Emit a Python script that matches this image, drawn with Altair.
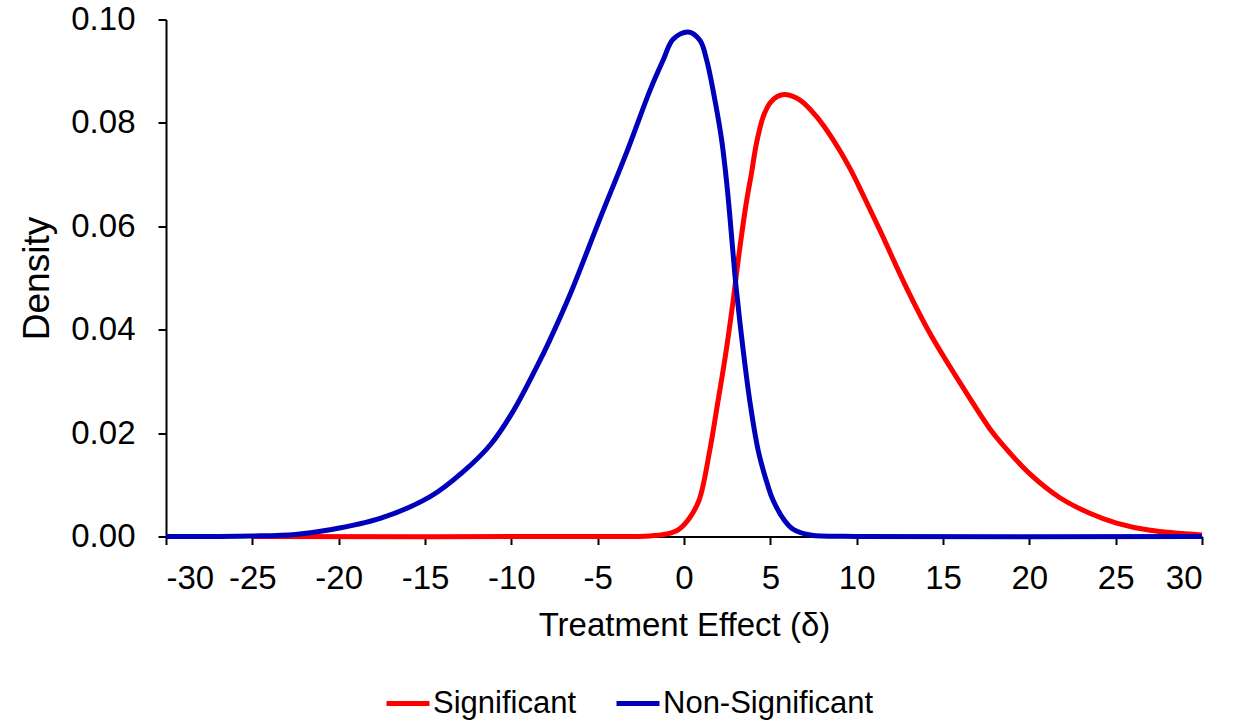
import altair as alt
import pandas as pd

# Significant (red)
sig_x = [-25, -5, -2, -1, -0.34, 0.3, 0.88, 1.5, 1.98, 2.4, 2.85, 3.2, 3.62, 3.91, 4.2, 4.59, 4.97,
         5.4, 5.86, 6.72, 7.68, 8.64, 9.61, 10.38, 11.35, 12.9, 14.24, 15.97, 17.7, 18.29, 20.03,
         21.77, 23.5, 25.05, 27, 30]
sig_y = [0, 0, 0.0001, 0.0005, 0.0013, 0.0035, 0.0071, 0.0168, 0.0264, 0.0350, 0.0457, 0.0550,
         0.0648, 0.0703, 0.0761, 0.0812, 0.0838, 0.0851, 0.0855, 0.0844, 0.0812, 0.0767, 0.0712,
         0.0660, 0.0592, 0.0480, 0.0393, 0.0298, 0.0209, 0.0184, 0.0121, 0.0075, 0.0045, 0.0026,
         0.0012, 0.0003]

# Non-Significant (blue)
non_x = [-30, -25, -22.5, -20.5, -17.6, -14.7, -12.8, -11.2, -9.9, -8.5, -7.8, -6.6, -4.9, -3.3,
         -1.98, -1.2, -0.63, 0.24, 0.92, 1.31, 1.79, 2.18, 2.5, 2.83, 3.0, 3.4, 3.82, 4.3, 4.86,
         5.16, 5.8, 6.32, 7.0, 7.5, 10, 30]
non_y = [0, 0.0001, 0.0004, 0.0013, 0.0035, 0.0077, 0.0125, 0.0178, 0.0242, 0.0330, 0.0378, 0.0468,
         0.0612, 0.0745, 0.0862, 0.0922, 0.0962, 0.0976, 0.0960, 0.0922, 0.0844, 0.0767, 0.0675,
         0.0552, 0.0488, 0.0368, 0.0260, 0.0166, 0.0098, 0.0070, 0.0032, 0.0014, 0.0005, 0.0002,
         0, 0]

series_names = ["Significant", "Non-Significant"]
series_colors = ["#FF0000", "#0000BB"]

x_ticks = list(range(-30, 31, 5))
y_ticks = [0.0, 0.02, 0.04, 0.06, 0.08, 0.10]

df_sig = pd.DataFrame({"x": sig_x, "y": sig_y, "series": series_names[0]})
df_non = pd.DataFrame({"x": non_x, "y": non_y, "series": series_names[1]})

FONT = "Liberation Sans"

x_enc = alt.X("x:Q",
              scale=alt.Scale(domain=[-30, 30], nice=False, zero=False),
              axis=alt.Axis(values=x_ticks, title="Treatment Effect (δ)",
                            labelExpr="'' + datum.value",
                            tickSize=8, labelPadding=18, titlePadding=14, titleFontSize=33))
y_enc = alt.Y("y:Q",
              scale=alt.Scale(domain=[0, 0.10], nice=False),
              axis=alt.Axis(values=y_ticks, title="Density", format=".2f",
                            tickSize=8, labelPadding=23, titlePadding=14, titleFontSize=37))
color_enc = alt.Color("series:N",
                      scale=alt.Scale(domain=series_names, range=series_colors),
                      legend=alt.Legend(title=None, orient="none", direction="horizontal",
                                        legendX=218, legendY=660, columns=2,
                                        symbolType="stroke", symbolSize=1849,
                                        symbolStrokeWidth=5, labelOffset=1,
                                        columnPadding=29, labelLimit=400, padding=0,
                                        labelFontSize=31, labelFont=FONT, labelColor="black"))

red = alt.Chart(df_sig).mark_line(strokeWidth=5, interpolate="catmull-rom").encode(
    x=x_enc, y=y_enc, color=color_enc)
blue = alt.Chart(df_non).mark_line(strokeWidth=5, interpolate="catmull-rom").encode(
    x=x_enc, y=y_enc, color=color_enc)

chart = alt.layer(red, blue).properties(
    width=1036, height=517,
    autosize=alt.AutoSizeParams(type="none"),
    padding={"left": 166, "top": 19.5, "right": 32, "bottom": 184.5},
    background="white",
).configure_view(stroke=None).configure_axis(
    grid=False,
    domainColor="black", domainWidth=2,
    tickColor="black", tickWidth=2,
    labelFont=FONT, labelFontSize=33, labelColor="black",
    titleFont=FONT, titleFontWeight="normal", titleColor="black",
)

chart.save("out.html", embed_options={"renderer": "svg", "actions": False})
